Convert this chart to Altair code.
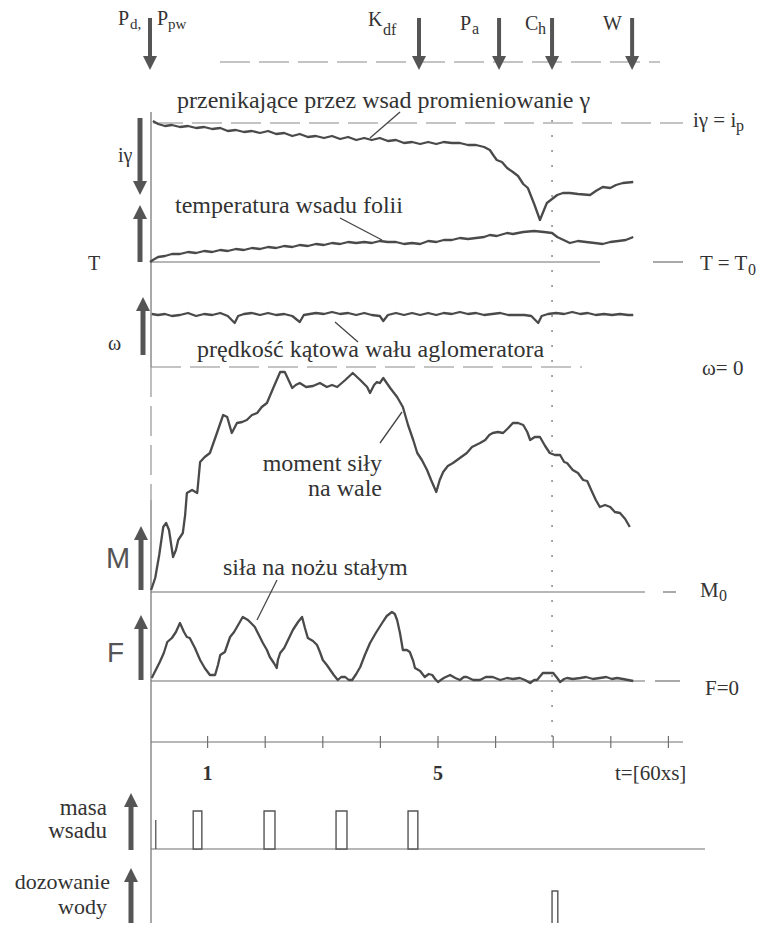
import altair as alt
import pandas as pd

# ---------------- data ----------------
# time in minutes (t=[60xs]); values = deviation of each trace from its reference level
ig_t = [0.05, 0.14, 0.26, 0.38, 0.52, 0.66, 0.80, 0.94, 1.08, 1.22, 1.35, 1.49, 1.63, 1.77, 1.91, 2.05, 2.19,
        2.33, 2.47, 2.60, 2.74, 2.88, 3.02, 3.16, 3.30, 3.44, 3.58, 3.72, 3.85, 3.99, 4.13, 4.27, 4.41, 4.55,
        4.69, 4.83, 4.97, 5.10, 5.24, 5.38, 5.52, 5.66, 5.80, 5.90, 5.97, 6.02, 6.11, 6.20, 6.30, 6.39, 6.48,
        6.56, 6.67, 6.77, 6.84, 6.89, 6.98, 7.07, 7.17, 7.29, 7.43, 7.64, 7.74, 7.86, 7.99, 8.09, 8.21, 8.39]
ig_v = [1, -2, -4, -3, -5, -4, -6, -5, -7, -6, -9, -8, -10, -9, -11, -9, -12, -11, -14, -12, -15, -14, -16,
        -14, -17, -15, -18, -16, -18, -16, -19, -18, -21, -20, -22, -20, -22, -20, -21, -21, -23, -23, -25,
        -28, -34, -38, -40, -46, -50, -54, -62, -66, -82, -98, -88, -81, -77, -73, -71, -71, -72, -73, -69,
        -65, -66, -63, -61, -60]

T_t = [0, 0.05, 0.14, 0.26, 0.38, 0.52, 0.66, 0.80, 0.94, 1.08, 1.22, 1.35, 1.49, 1.63, 1.77, 1.91, 2.05,
       2.19, 2.33, 2.47, 2.60, 2.74, 2.88, 3.02, 3.16, 3.30, 3.44, 3.58, 3.72, 3.85, 3.99, 4.13, 4.27, 4.41,
       4.55, 4.69, 4.83, 4.97, 5.10, 5.24, 5.38, 5.52, 5.66, 5.80, 5.90, 6.02, 6.20, 6.30, 6.48, 6.67, 6.84,
       6.98, 7.07, 7.29, 7.43, 7.57, 7.72, 7.86, 7.99, 8.13, 8.26, 8.39]
T_v = [0, 2, 5, 6, 8, 8, 10, 9, 11, 10, 12, 11, 13, 12, 14, 13, 15, 14, 16, 15, 17, 16, 18, 17, 19, 18, 20,
       19, 20, 19, 21, 20, 20, 18, 19, 18, 21, 20, 22, 22, 24, 23, 24, 25, 27, 26, 29, 28, 30, 31, 30, 29, 25,
       19, 21, 20, 19, 18, 20, 21, 22, 25]

w_t = [0.03, 0.14, 0.26, 0.38, 0.52, 0.66, 0.80, 0.94, 1.08, 1.22, 1.35, 1.47, 1.53, 1.63, 1.77, 1.91, 2.05,
       2.19, 2.33, 2.47, 2.60, 2.67, 2.88, 3.02, 3.16, 3.30, 3.44, 3.58, 3.72, 3.85, 3.99, 4.05, 4.13, 4.27,
       4.41, 4.55, 4.69, 4.83, 4.97, 5.10, 5.24, 5.38, 5.52, 5.66, 5.80, 5.94, 6.08, 6.22, 6.36, 6.50, 6.62,
       6.74, 6.80, 6.91, 7.05, 7.19, 7.33, 7.47, 7.60, 7.74, 7.88, 8.02, 8.16, 8.30, 8.39]
w_v = [53, 52, 53, 51, 52, 54, 51, 53, 52, 54, 51, 44, 51, 53, 54, 52, 54, 52, 53, 51, 45, 52, 54, 53, 55,
       53, 54, 52, 54, 52, 51, 46, 52, 54, 52, 54, 52, 54, 52, 54, 53, 55, 53, 54, 52, 53, 54, 52, 52, 52,
       51, 44, 51, 53, 54, 53, 55, 53, 54, 52, 53, 52, 53, 52, 52]

M_t = [0.02, 0.09, 0.16, 0.23, 0.28, 0.33, 0.40, 0.45, 0.49, 0.57, 0.61, 0.64, 0.73, 0.82, 0.87, 0.95, 1.04,
       1.15, 1.27, 1.34, 1.42, 1.51, 1.60, 1.68, 1.77, 1.86, 1.94, 2.03, 2.14, 2.26, 2.34, 2.47, 2.53, 2.60,
       2.71, 2.83, 2.95, 3.07, 3.16, 3.25, 3.39, 3.52, 3.65, 3.77, 3.82, 3.89, 3.94, 3.99, 4.05, 4.17, 4.29,
       4.39, 4.48, 4.57, 4.64, 4.72, 4.81, 4.88, 4.97, 5.03, 5.09, 5.17, 5.26, 5.38, 5.50, 5.59, 5.73, 5.82,
       5.89, 5.95, 6.04, 6.13, 6.22, 6.30, 6.39, 6.48, 6.55, 6.60, 6.68, 6.77, 6.86, 6.94, 7.03, 7.12, 7.19,
       7.24, 7.34, 7.43, 7.52, 7.59, 7.66, 7.74, 7.81, 7.90, 7.99, 8.07, 8.16, 8.25, 8.33]
M_v = [2, 14, 37, 65, 69, 62, 35, 42, 52, 59, 77, 99, 102, 99, 130, 135, 139, 157, 177, 175, 159, 169, 170,
       172, 177, 179, 185, 189, 204, 220, 220, 204, 207, 209, 205, 206, 209, 205, 207, 205, 212, 219, 212,
       205, 199, 207, 210, 209, 214, 204, 195, 185, 167, 152, 139, 132, 122, 112, 100, 112, 120, 126, 129,
       134, 139, 145, 149, 152, 157, 159, 160, 159, 164, 169, 169, 167, 160, 152, 155, 155, 146, 139, 137,
       137, 130, 129, 122, 119, 112, 111, 102, 92, 85, 87, 85, 80, 79, 73, 65]

F_t = [0.03, 0.10, 0.17, 0.24, 0.30, 0.38, 0.45, 0.52, 0.59, 0.64, 0.69, 0.78, 0.87, 0.95, 1.04, 1.13, 1.18,
       1.22, 1.30, 1.39, 1.46, 1.51, 1.56, 1.61, 1.70, 1.77, 1.82, 1.89, 1.96, 2.03, 2.08, 2.15, 2.20, 2.22,
       2.26, 2.33, 2.38, 2.43, 2.48, 2.57, 2.64, 2.69, 2.74, 2.83, 2.90, 2.95, 3.00, 3.07, 3.13, 3.19, 3.26,
       3.32, 3.39, 3.45, 3.51, 3.58, 3.65, 3.73, 3.82, 3.92, 4.03, 4.11, 4.20, 4.25, 4.29, 4.34, 4.39, 4.46,
       4.51, 4.57, 4.60, 4.69, 4.77, 4.84, 4.90, 4.95, 5.00, 5.10, 5.21, 5.30, 5.38, 5.45, 5.50, 5.61, 5.73,
       5.83, 5.95, 6.08, 6.20, 6.30, 6.42, 6.51, 6.60, 6.67, 6.72, 6.82, 6.93, 7.00, 7.07, 7.12, 7.19, 7.24,
       7.34, 7.47, 7.57, 7.69, 7.81, 7.92, 8.02, 8.11, 8.21, 8.30, 8.39]
F_v = [3, 11, 19, 28, 39, 43, 49, 58, 49, 44, 43, 33, 21, 13, 6, 6, 16, 26, 29, 44, 49, 54, 59, 64, 61, 57,
       54, 46, 38, 31, 24, 18, 13, 21, 28, 33, 39, 45, 51, 59, 64, 53, 43, 40, 36, 29, 21, 16, 11, 6, 1, 4, 4,
       1, 1, 7, 14, 26, 38, 48, 58, 65, 69, 67, 61, 48, 31, 31, 29, 20, 13, 10, 4, 7, 6, 2, -1, 3, 6, 3, 1, 4,
       4, 1, 1, 4, 4, 1, 3, 2, 3, 1, -2, 1, 1, 8, 8, 8, 3, -1, 2, 3, 2, 3, 4, 2, 3, 4, 2, 3, 2, 1, 0]

# feed pulses (masa wsadu) and water dosing (dozowanie wody): start / end times
masa_start = [0.75, 1.98, 3.23, 4.48]
masa_end = [0.90, 2.17, 3.42, 4.65]
masa_spike_t = [0.10]
water_start = [6.98]
water_end = [7.08]

# process events at the top
event_names = ["Pd,Ppw", "Kdf", "Pa", "Ch", "W"]
event_t = [0.0, 4.67, 6.06, 6.98, 8.37]

tick_values = [1, 2, 3, 4, 5, 6, 7, 8, 9]
tick_labels = ["1", "5"]
tick_label_values = [1, 5]

# ---------------- layout ----------------
X0 = 150.0           # page x of t = 0
PXM = 57.6           # page pixels per minute
def tx(px):
    return (px - X0) / PXM

BASE = {"ig": 122, "T": 262, "w": 367, "M": 592, "F": 681}
INK = "#4a4a4a"
TXT = "#333333"
LINE = "#707070"
SERIF = "Liberation Serif, Times New Roman, serif"

xs = alt.Scale(domain=[tx(8), tx(760)], nice=False, zero=False)
ys = alt.Scale(domain=[8, 923], reverse=True, nice=False, zero=False)

rows = []
for key, ts, vs in [("ig", ig_t, ig_v), ("T", T_t, T_v), ("w", w_t, w_v), ("M", M_t, M_v), ("F", F_t, F_v)]:
    for t, v in zip(ts, vs):
        rows.append({"t": t, "y": BASE[key] - v, "s": key})
series_df = pd.DataFrame(rows)

traces = alt.Chart(series_df).mark_line(color=INK, strokeWidth=2.3, strokeJoin="round").encode(
    x=alt.X("t:Q", scale=xs, axis=None),
    y=alt.Y("y:Q", scale=ys, axis=None),
    detail="s:N",
)


def rules(segs, width=1.2, color=LINE, dash=None):
    df = pd.DataFrame([{"t1": a, "y1": b, "t2": c, "y2": d} for a, b, c, d in segs])
    kw = dict(strokeWidth=width, color=color, strokeCap="butt")
    if dash:
        kw["strokeDash"] = dash
    return alt.Chart(df).mark_rule(**kw).encode(
        x=alt.X("t1:Q", scale=xs, axis=None), y=alt.Y("y1:Q", scale=ys, axis=None),
        x2="t2:Q", y2="y2:Q")


solid = rules([
    (tx(151), 262, tx(600), 262), (tx(653), 262, tx(683), 262),
    (tx(151), 592, tx(645), 592), (tx(663), 592, tx(676), 592),
    (tx(151), 681, tx(645), 681), (tx(655), 681, tx(680), 681),
    (tx(151), 742, tx(683), 742),
    (tx(151), 849, tx(705), 849),
    (tx(151), 927, tx(333), 927),
    (tx(151), 112, tx(151), 367), (tx(151), 500, tx(151), 930),
])
ticks = rules([(t, 736, t, 748) for t in tick_values])
dashed = rules([
    (tx(220), 62, tx(660), 62),
    (tx(153), 123, tx(683), 123),
    (tx(151), 367, tx(582), 367),
    (tx(151), 367, tx(151), 500),
], width=1.1, color="#8a8a8a", dash=[30, 9])
dotted = rules([(event_t[3], 120, event_t[3], 742)], width=1.3, color="#777777", dash=[2, 13])
leaders = rules([
    (tx(400), 112, tx(370), 138),
    (tx(340), 218, tx(382), 240),
    (tx(358), 342, tx(335), 322),
    (tx(380), 443, tx(402), 412),
    (tx(277), 580, tx(257), 620),
], width=1.3, color="#444444")

spikes = rules([(t, 849, t, 820) for t in masa_spike_t], width=1.3, color="#555555")

PULSE_H = 38
rect_rows = [{"a": a, "b": b, "y1": 849, "y2": 849 - PULSE_H} for a, b in zip(masa_start, masa_end)]
rect_rows += [{"a": a, "b": b, "y1": 929, "y2": 929 - PULSE_H} for a, b in zip(water_start, water_end)]
pulses = alt.Chart(pd.DataFrame(rect_rows)).mark_rect(fill="white", stroke="#555555", strokeWidth=1.4).encode(
    x=alt.X("a:Q", scale=xs, axis=None), x2="b:Q",
    y=alt.Y("y1:Q", scale=ys, axis=None), y2="y2:Q")

# arrows: (t, tail y, tip y)
down_arrows = [(t, 18, 70) for t in event_t] + [(tx(140), 118, 195)]
up_arrows = [(tx(140), 262, 205), (tx(143), 355, 297), (tx(141), 590, 526), (tx(141), 680, 615),
             (tx(131), 850, 793), (tx(131), 928, 868)]
HEAD = 7


def arrows(items, down, width):
    shaft = pd.DataFrame([{"t": t, "y1": a, "y2": (b - HEAD if down else b + HEAD)} for t, a, b in items])
    head = pd.DataFrame([{"t": t, "y": (b - HEAD if down else b + HEAD)} for t, a, b in items])
    s = alt.Chart(shaft).mark_rule(strokeWidth=width, color="#555555", strokeCap="butt").encode(
        x=alt.X("t:Q", scale=xs, axis=None), y=alt.Y("y1:Q", scale=ys, axis=None), y2="y2:Q")
    shape = "M-1,-1L1,-1L0,1Z" if down else "M-1,1L1,1L0,-1Z"
    h = alt.Chart(head).mark_point(shape=shape, size=(2 * HEAD) ** 2, filled=True, color="#555555",
                                   opacity=1, strokeWidth=0).encode(
        x=alt.X("t:Q", scale=xs, axis=None), y=alt.Y("y:Q", scale=ys, axis=None))
    return [s, h]


arrow_layers = arrows(down_arrows[:5], True, 4) + arrows(down_arrows[5:], True, 5) + arrows(up_arrows, False, 5)


def texts(items, font=SERIF, align="left", color=TXT, weight="normal"):
    df = pd.DataFrame([{"t": tx(x), "y": y, "txt": s, "fs": f} for s, x, y, f in items])
    return alt.Chart(df).mark_text(font=font, align=align, baseline="alphabetic", color=color,
                                   fontWeight=weight).encode(
        x=alt.X("t:Q", scale=xs, axis=None), y=alt.Y("y:Q", scale=ys, axis=None),
        text="txt:N", size=alt.Size("fs:Q", scale=None, legend=None))


serif_left = texts([
    ("przenikające przez wsad promieniowanie γ", 177, 108, 24),
    ("temperatura wsadu folii", 175, 213, 24),
    ("prędkość kątowa wału aglomeratora", 197, 357, 24),
    ("siła na nożu stałym", 223, 575, 24),
    ("iγ = i", 693, 127, 21), ("p", 736, 131, 16),
    ("T = T", 700, 270, 21), ("0", 748, 275, 16),
    ("ω= 0", 702, 375, 21),
    ("M", 700, 597, 21), ("0", 719, 601, 16),
    ("F=0", 705, 695, 21),
    ("iγ", 118, 162, 20),
    ("T", 88, 270, 20),
    ("ω", 108, 350, 20),
    ("P", 118, 25, 20), ("d,", 130, 29, 15), ("P", 157, 25, 20), ("pw", 168, 29, 15),
    ("K", 368, 26, 20), ("df", 383, 35, 16),
    ("P", 460, 30, 20), ("a", 472, 34, 16),
    ("C", 525, 30, 20), ("h", 538, 34, 16),
    ("W", 603, 30, 20),
    ("t=[60xs]", 615, 780, 21),
])
serif_right = texts([
    ("moment siły", 382, 471, 24),
    ("na wale", 382, 496, 24),
    ("masa", 107, 815, 23),
    ("wsadu", 107, 838, 23),
    ("dozowanie", 110, 889, 22),
    ("wody", 107, 914, 22),
], align="right")
axis_lbl = texts([(s, X0 + v * PXM, 780, 20) for v, s in zip(tick_label_values, tick_labels)],
                 align="center", weight="bold")
sans_big = texts([("M", 106, 568, 29), ("F", 107, 662, 28)], font="Liberation Sans, Arial, sans-serif",
                 color="#555555")

chart = alt.layer(
    solid, ticks, dashed, dotted, leaders, spikes, pulses, traces,
    *arrow_layers, serif_left, serif_right, axis_lbl, sans_big,
).properties(
    width=752, height=915, autosize=alt.AutoSizeParams(type="none"), padding=0, background="white"
).configure_view(stroke=None)

chart.save("out.html", embed_options={"renderer": "svg", "actions": False})
